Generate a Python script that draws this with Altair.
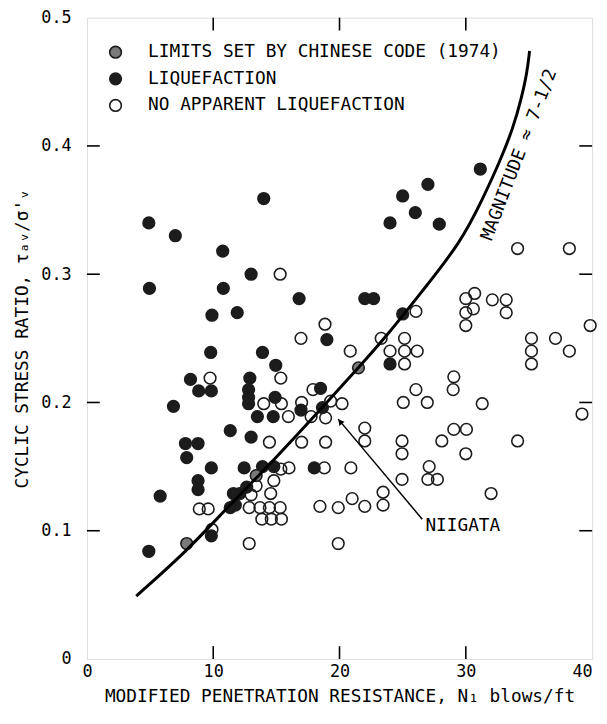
import altair as alt
import pandas as pd

# ---------------- data ----------------
chinese_n = [7.9, 13.4, 21.5]
chinese_r = [0.090, 0.143, 0.227]

liq_n = [4.9, 7.0, 10.75, 13.0, 4.95, 10.8, 14.0, 9.9, 11.9, 9.8, 13.9, 14.95,
         8.2, 12.9, 12.8, 12.8, 12.8, 8.85, 9.85, 14.9, 6.85, 13.5, 14.75, 11.35,
         13.0, 7.8, 8.8, 7.9, 9.85, 12.45, 13.9, 14.8, 8.8, 8.8, 5.8, 11.6,
         12.1, 12.65, 11.35, 11.75, 9.85, 4.9, 16.95, 18.5, 18.0, 16.8, 22.0, 22.7,
         25.0, 19.0, 24.0, 18.65, 27.0, 25.0, 26.0, 24.0, 27.9, 31.15]
liq_r = [0.340, 0.330, 0.318, 0.300, 0.289, 0.289, 0.359, 0.268, 0.270, 0.239, 0.239, 0.229,
         0.218, 0.219, 0.210, 0.204, 0.199, 0.209, 0.209, 0.204, 0.197, 0.189, 0.189, 0.178,
         0.173, 0.168, 0.168, 0.157, 0.149, 0.149, 0.150, 0.150, 0.139, 0.132, 0.127, 0.129,
         0.129, 0.134, 0.118, 0.120, 0.096, 0.084, 0.194, 0.211, 0.149, 0.281, 0.281, 0.281,
         0.269, 0.249, 0.230, 0.196, 0.370, 0.361, 0.348, 0.340, 0.339, 0.382]

noliq_n = [15.3, 9.75, 15.35, 14.0, 15.4, 15.95, 14.45, 15.35, 16.0, 14.8, 13.4,
           14.55, 13.0, 8.9, 9.6, 12.85, 13.7, 14.45, 15.3, 13.85, 14.6, 15.4,
           9.9, 12.85, 17.9, 17.0, 17.0, 18.9, 18.8, 18.45, 19.3, 20.2, 17.75, 18.9,
           22.0, 22.0, 24.95, 24.95, 29.05, 30.05, 28.1, 30.0, 20.9, 24.95, 27.1, 27.0,
           27.75, 23.45, 23.45, 21.0, 22.0, 19.9, 19.9, 26.05, 30.0, 30.0, 30.0, 30.7,
           30.6, 32.1, 33.2, 33.2, 18.85, 16.95, 23.3, 25.15, 20.85, 24.0, 25.15, 26.15,
           25.15, 29.05, 29.0, 26.05, 25.05, 26.95, 31.3, 34.1, 38.2, 35.2, 35.2, 35.2,
           37.1, 38.2, 39.85, 39.2, 34.1, 32.0]
noliq_r = [0.300, 0.219, 0.219, 0.199, 0.199, 0.189, 0.169, 0.148, 0.149, 0.139, 0.135,
           0.129, 0.128, 0.117, 0.117, 0.118, 0.118, 0.118, 0.118, 0.109, 0.109, 0.109,
           0.101, 0.090, 0.210, 0.200, 0.169, 0.169, 0.149, 0.119, 0.201, 0.199, 0.189, 0.188,
           0.180, 0.170, 0.170, 0.160, 0.179, 0.179, 0.170, 0.160, 0.149, 0.140, 0.150, 0.140,
           0.140, 0.130, 0.120, 0.125, 0.119, 0.118, 0.090, 0.271, 0.281, 0.270, 0.260, 0.285,
           0.273, 0.280, 0.280, 0.270, 0.261, 0.250, 0.250, 0.250, 0.240, 0.240, 0.240, 0.240,
           0.230, 0.220, 0.210, 0.210, 0.200, 0.200, 0.199, 0.320, 0.320, 0.250, 0.240, 0.230,
           0.250, 0.240, 0.260, 0.191, 0.170, 0.129]

curve_n = [3.9, 8.0, 11.0, 15.0, 18.9, 21.5, 24.0, 26.4, 29.6, 31.4, 32.7, 33.75, 34.4, 34.85, 35.05]
curve_r = [0.049, 0.085, 0.117, 0.157, 0.199, 0.227, 0.255, 0.285, 0.3245, 0.360, 0.388, 0.414, 0.437, 0.457, 0.474]

x_ticks = [10, 20, 30]
y_ticks = [0.1, 0.2, 0.3, 0.4]

cat_labels = ["LIMITS SET BY CHINESE CODE (1974)", "LIQUEFACTION", "NO APPARENT LIQUEFACTION"]

FONT = "DejaVu Sans Mono"
W, H = 512, 650

pts = pd.concat([
    pd.DataFrame({"n": liq_n, "r": liq_r, "cat": cat_labels[1]}),
    pd.DataFrame({"n": noliq_n, "r": noliq_r, "cat": cat_labels[2]}),
    pd.DataFrame({"n": chinese_n, "r": chinese_r, "cat": cat_labels[0]}),
], ignore_index=True)

xs = alt.Scale(domain=[0, 40], nice=False, zero=False)
ys = alt.Scale(domain=[0, 0.5], nice=False, zero=False)

xaxis = alt.Axis(values=[0, 10, 20, 30, 40], format="d", domain=False, ticks=False, grid=False,
                 labelFont=FONT, labelFontSize=17, labelColor="black", labelPadding=5,
                 labelFlush=False,
                 labelAlign=alt.condition("datum.value == 40", alt.value("right"), alt.value("center")),
                 title="MODIFIED PENETRATION RESISTANCE, N\u2081 blows/ft",
                 titleFont=FONT, titleFontSize=18, titleFontWeight="normal", titleColor="black",
                 titlePadding=8)
yaxis = alt.Axis(values=[0, 0.1, 0.2, 0.3, 0.4, 0.5], domain=False, ticks=False, grid=False,
                 labelExpr="datum.value == 0 ? '0' : format(datum.value, '.1f')",
                 labelFont=FONT, labelFontSize=17, labelColor="black", labelPadding=16,
                 labelFlush=False,
                 title="CYCLIC STRESS RATIO, \u03c4\u2090\u1d65/\u03c3'\u1d65",
                 titleFont=FONT, titleFontSize=18, titleFontWeight="normal", titleColor="black",
                 titlePadding=10)

leg = alt.Legend(title=None, orient="none", legendX=20, legendY=26,
                 labelFont=FONT, labelFontSize=18, labelColor="black",
                 labelOffset=24, rowPadding=7, symbolSize=140,
                 symbolStrokeWidth=1.6, padding=0, labelLimit=500)

points = alt.Chart(pts).mark_point(shape="circle", size=140, strokeWidth=1.6, opacity=1).encode(
    x=alt.X("n:Q", scale=xs, axis=xaxis),
    y=alt.Y("r:Q", scale=ys, axis=yaxis),
    fill=alt.Fill("cat:N", scale=alt.Scale(domain=cat_labels, range=["#7a7a7a", "#1c1c1c", "transparent"]),
                  legend=leg),
    stroke=alt.Stroke("cat:N", scale=alt.Scale(domain=cat_labels, range=["#1c1c1c", "#1c1c1c", "#1c1c1c"]),
                      legend=leg),
)

curve = alt.Chart(pd.DataFrame({"n": curve_n, "r": curve_r})).mark_line(
    color="black", strokeWidth=3, interpolate="basis").encode(
    x=alt.X("n:Q", scale=xs), y=alt.Y("r:Q", scale=ys), order="r:Q")

mag = alt.Chart(pd.DataFrame({"n": [34.25], "r": [0.393], "t": ["MAGNITUDE \u2248 7-1/2"]})).mark_text(
    font=FONT, fontSize=18, angle=291, align="center", baseline="middle", color="black").encode(
    x=alt.X("n:Q", scale=xs), y=alt.Y("r:Q", scale=ys), text="t:N")

niig = alt.Chart(pd.DataFrame({"n": [26.8], "r": [0.104], "t": ["NIIGATA"]})).mark_text(
    font=FONT, fontSize=18, align="left", baseline="middle", color="black").encode(
    x=alt.X("n:Q", scale=xs), y=alt.Y("r:Q", scale=ys), text="t:N")

arrow_line = alt.Chart(pd.DataFrame({"n": [26.55], "r": [0.109], "n2": [19.9], "r2": [0.187]})).mark_rule(
    color="black", strokeWidth=1.5).encode(
    x=alt.X("n:Q", scale=xs), y=alt.Y("r:Q", scale=ys), x2="n2:Q", y2="r2:Q")

arrow_head = alt.Chart(pd.DataFrame({"n": [20.05], "r": [0.185]})).mark_point(
    shape="triangle-up", angle=320, size=45, filled=True, color="black", opacity=1).encode(
    x=alt.X("n:Q", scale=xs), y=alt.Y("r:Q", scale=ys))

tx = pd.DataFrame({"v": x_ticks})
ty = pd.DataFrame({"v": y_ticks})
tick_b = alt.Chart(tx).mark_rule(color="black", strokeWidth=1.6).encode(
    x=alt.X("v:Q", scale=xs), y=alt.value(H), y2=alt.value(H - 13))
tick_t = alt.Chart(tx).mark_rule(color="black", strokeWidth=1.6).encode(
    x=alt.X("v:Q", scale=xs), y=alt.value(0), y2=alt.value(13))
tick_l = alt.Chart(ty).mark_rule(color="black", strokeWidth=1.6).encode(
    y=alt.Y("v:Q", scale=ys), x=alt.value(0), x2=alt.value(13))
tick_r = alt.Chart(ty).mark_rule(color="black", strokeWidth=1.6).encode(
    y=alt.Y("v:Q", scale=ys), x=alt.value(W), x2=alt.value(W - 13))

chart = alt.layer(points, curve, mag, niig, arrow_line, arrow_head, tick_b, tick_t, tick_l, tick_r).properties(
    width=W, height=H,
    autosize=alt.AutoSizeParams(type="none"),
    padding={"left": 80, "top": 5, "right": 7, "bottom": 55},
).configure_view(stroke="black", strokeWidth=2).configure(background="white")

chart.save("out.html", embed_options={"renderer": "svg", "actions": False})
